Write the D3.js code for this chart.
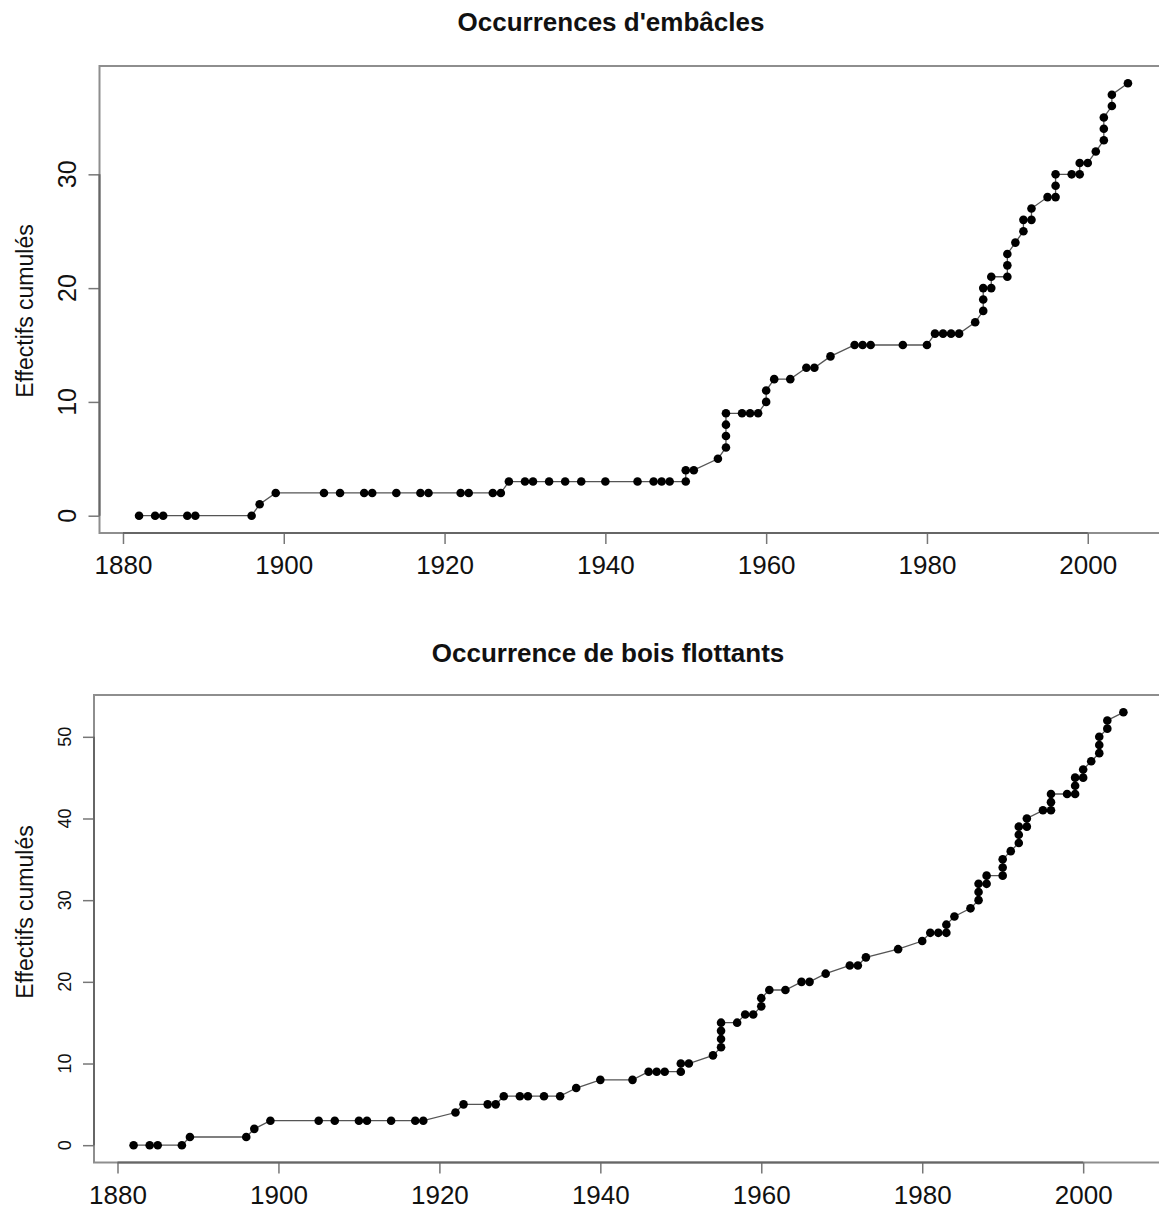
<!DOCTYPE html>
<html><head><meta charset="utf-8">
<script src="https://cdn.jsdelivr.net/npm/d3@7"></script>
<style>
body{margin:0;background:#fff}
svg{display:block}
text{font-family:"Liberation Sans",Arial,Helvetica,sans-serif;fill:#111}
</style>
</head><body>
<svg id="c" width="1159" height="1209"></svg>
<script>
// ---- data ----
const yearsEmbacles = [1882,1884,1885,1888,1889,1896,1897,1899,1905,1907,1910,1911,1914,1917,1918,1922,1923,1926,1927,1928,1930,1931,1933,1935,1937,1940,1944,1946,1947,1948,1950,1950,1951,1954,1955,1955,1955,1955,1957,1958,1959,1960,1960,1961,1963,1965,1966,1968,1971,1972,1973,1977,1980,1981,1982,1983,1984,1986,1987,1987,1987,1988,1988,1990,1990,1990,1991,1992,1992,1993,1993,1995,1996,1996,1996,1998,1999,1999,2000,2001,2002,2002,2002,2003,2003,2005];
const cumulEmbacles = [0,0,0,0,0,0,1,2,2,2,2,2,2,2,2,2,2,2,2,3,3,3,3,3,3,3,3,3,3,3,3,4,4,5,6,7,8,9,9,9,9,10,11,12,12,13,13,14,15,15,15,15,15,16,16,16,16,17,18,19,20,20,21,21,22,23,24,25,26,26,27,28,28,29,30,30,30,31,31,32,33,34,35,36,37,38];

const yearsBois = [1882,1884,1885,1888,1889,1896,1897,1899,1905,1907,1910,1911,1914,1917,1918,1922,1923,1926,1927,1928,1930,1931,1933,1935,1937,1940,1944,1946,1947,1948,1950,1950,1951,1954,1955,1955,1955,1955,1957,1958,1959,1960,1960,1961,1963,1965,1966,1968,1971,1972,1973,1977,1980,1981,1982,1983,1983,1984,1986,1987,1987,1987,1988,1988,1990,1990,1990,1991,1992,1992,1992,1993,1993,1995,1996,1996,1996,1998,1999,1999,1999,2000,2000,2001,2002,2002,2002,2003,2003,2005];
const cumulBois = [0,0,0,0,1,1,2,3,3,3,3,3,3,3,3,4,5,5,5,6,6,6,6,6,7,8,8,9,9,9,9,10,10,11,12,13,14,15,15,16,16,17,18,19,19,20,20,21,22,22,23,24,25,26,26,26,27,28,29,30,31,32,32,33,33,34,35,36,37,38,39,39,40,41,41,42,43,43,43,44,45,45,46,47,48,49,50,51,52,53];

const xTicks = [1880,1900,1920,1940,1960,1980,2000];
const yTicksEmbacles = [0,10,20,30];
const yTicksBois = [0,10,20,30,40,50];
const titles = ["Occurrences d'embâcles", "Occurrence de bois flottants"];
const yTitle = "Effectifs cumulés";

// ---- drawing ----
const svg = d3.select("#c");

function panel(cfg, years, counts, yTicks, title) {
  const pts = years.map((yr, i) => ({yr, v: counts[i]}));
  const xe = d3.extent(years), ye = d3.extent(counts);
  const xp = (xe[1] - xe[0]) * 0.04, yp = (ye[1] - ye[0]) * 0.04;
  const x = d3.scaleLinear().domain([xe[0] - xp, xe[1] + xp]).range([cfg.left, cfg.right]);
  const y = d3.scaleLinear().domain([ye[0] - yp, ye[1] + yp]).range([cfg.bottom, cfg.top]);
  const g = svg.append("g");

  // box
  g.append("rect").attr("x", cfg.left).attr("y", cfg.top)
    .attr("width", cfg.right - cfg.left).attr("height", cfg.bottom - cfg.top)
    .attr("fill", "none").attr("stroke", "#8e8e8e").attr("stroke-width", 2);

  // x axis
  const xa = g.append("g").attr("transform", `translate(0,${cfg.bottom})`)
    .call(d3.axisBottom(x).tickValues(xTicks).tickFormat(d3.format("d"))
      .tickSize(11).tickSizeOuter(0).tickPadding(12));
  xa.select(".domain").remove();
  xa.selectAll(".tick line").attr("stroke", "#777").attr("stroke-width", 1.5);
  xa.selectAll(".tick text").attr("font-size", cfg.xFont).attr("fill", "#111")
    .attr("font-family", '"Liberation Sans",Arial,sans-serif');
  g.append("line").attr("x1", x(xTicks[0])).attr("x2", x(xTicks[xTicks.length - 1]))
    .attr("y1", cfg.bottom).attr("y2", cfg.bottom).attr("stroke", "#666").attr("stroke-width", 2);

  // y axis
  const ya = g.append("g").attr("transform", `translate(${cfg.left},0)`)
    .call(d3.axisLeft(y).tickValues(yTicks).tickSize(11).tickSizeOuter(0).tickFormat(""));
  ya.select(".domain").remove();
  ya.selectAll(".tick line").attr("stroke", "#777").attr("stroke-width", 1.5);
  g.append("line").attr("x1", cfg.left).attr("x2", cfg.left)
    .attr("y1", y(yTicks[0])).attr("y2", y(yTicks[yTicks.length - 1]))
    .attr("stroke", "#666").attr("stroke-width", 2);
  g.selectAll(".ylab").data(yTicks).join("text")
    .attr("transform", d => `translate(${cfg.yLabX},${y(d)}) rotate(-90)`)
    .attr("text-anchor", "middle").attr("dy", "0.36em")
    .attr("font-size", cfg.yFont).text(d => d);

  // line + points
  g.append("path").datum(pts)
    .attr("d", d3.line().x(d => x(d.yr)).y(d => y(d.v)))
    .attr("fill", "none").attr("stroke", "#555").attr("stroke-width", 1.3);
  g.selectAll(".pt").data(pts).join("circle")
    .attr("cx", d => x(d.yr)).attr("cy", d => y(d.v)).attr("r", 4.3).attr("fill", "#000");

  // titles
  g.append("text").attr("x", cfg.titleX).attr("y", cfg.titleY).attr("text-anchor", "middle")
    .attr("font-weight", "bold").attr("font-size", cfg.titleFont).text(title);
  g.append("text")
    .attr("transform", `translate(${cfg.yTitleX},${cfg.yTitleY}) rotate(-90)`)
    .attr("text-anchor", "middle").attr("dy", "0.36em")
    .attr("font-size", cfg.yTitleFont).text(yTitle);
}

panel({left: 99.5, right: 1167.5, top: 66, bottom: 533, xFont: 26, yFont: 25, yLabX: 67,
       titleX: 611, titleY: 31, titleFont: 26, yTitleX: 25, yTitleY: 311, yTitleFont: 23},
      yearsEmbacles, cumulEmbacles, yTicksEmbacles, titles[0]);
panel({left: 94, right: 1163, top: 695, bottom: 1162.5, xFont: 26, yFont: 18, yLabX: 65,
       titleX: 608, titleY: 662, titleFont: 26, yTitleX: 25, yTitleY: 912, yTitleFont: 23},
      yearsBois, cumulBois, yTicksBois, titles[1]);
</script>
</body></html>
